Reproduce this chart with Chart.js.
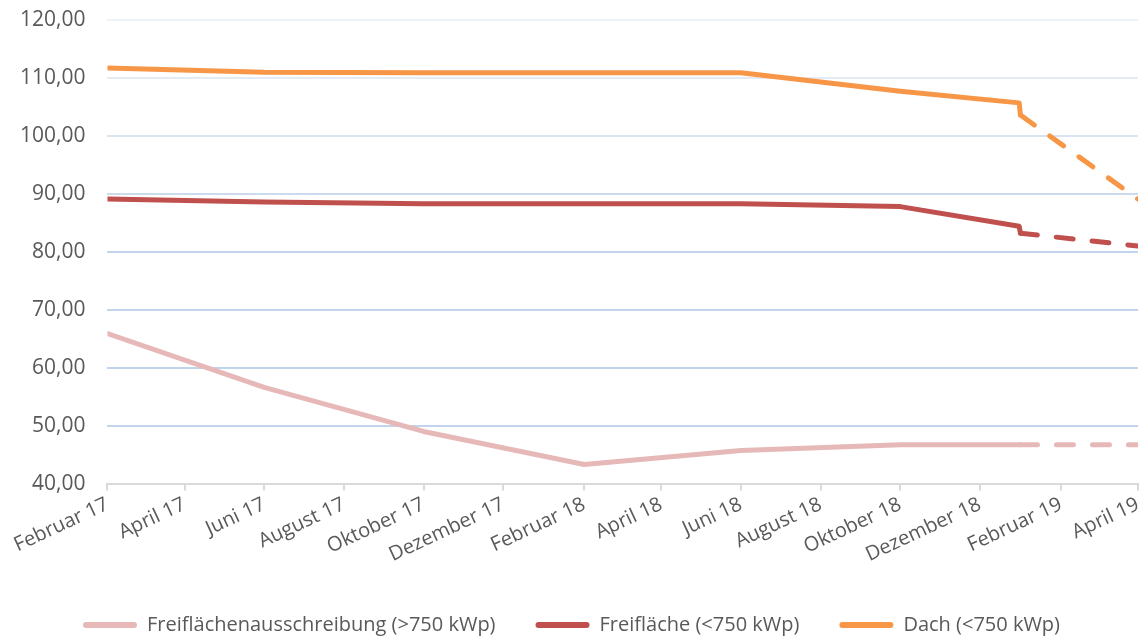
<!DOCTYPE html>
<html>
<head>
<meta charset="utf-8">
<script src="https://cdn.jsdelivr.net/npm/chart.js@4/dist/chart.umd.min.js"></script>
<style>
  html, body { margin: 0; padding: 0; background: #fff; }
  #wrap { width: 1145px; height: 637px; }
</style>
</head>
<body>
<div id="wrap"><canvas id="chart"></canvas></div>
<script>
// Stichtage der Werte (ab Januar 2019 gestrichelt = Prognose)
const dates = ['2017-02-01', '2017-06-01', '2017-10-01', '2018-02-01', '2018-06-01',
               '2018-10-01', '2018-12-31', '2019-01-01', '2019-04-01'];
const forecastFrom = '2019-01-01';

const seriesNames = ['Freiflächenausschreibung (>750 kWp)', 'Freifläche (<750 kWp)', 'Dach (<750 kWp)'];
const seriesColors = ['#E6B9B8', '#C0504D', '#F79646'];

const freiflaechenAusschreibung = [65.9, 56.6, 49.0, 43.3, 45.7, 46.7, 46.7, 46.7, 46.7];
const freiflaeche = [89.1, 88.6, 88.3, 88.3, 88.3, 87.8, 84.4, 83.2, 81.0];
const dach = [111.7, 111.0, 110.9, 110.9, 110.9, 107.7, 105.7, 103.6, 89.1];

// Achsenbeschriftung x (alle zwei Monate)
const tickDates = ['2017-02-01', '2017-04-01', '2017-06-01', '2017-08-01', '2017-10-01', '2017-12-01',
                   '2018-02-01', '2018-04-01', '2018-06-01', '2018-08-01', '2018-10-01', '2018-12-01',
                   '2019-02-01', '2019-04-01'];
const tickLabels = ['Februar 17', 'April 17', 'Juni 17', 'August 17', 'Oktober 17', 'Dezember 17',
                    'Februar 18', 'April 18', 'Juni 18', 'August 18', 'Oktober 18', 'Dezember 18',
                    'Februar 19', 'April 19'];
const yTicks = [40, 50, 60, 70, 80, 90, 100, 110, 120];

// Tage seit dem ersten Stichtag
function dayOf(s) {
    const p = s.split('-').map(Number);
    return (Date.UTC(p[0], p[1] - 1, p[2]) - Date.UTC(2017, 1, 1)) / 86400000;
}

const tickDays = tickDates.map(dayOf);
const forecastDay = dayOf(forecastFrom);

function points(values) {
    return values.map((v, i) => ({ x: dayOf(dates[i]), y: v }));
}

const allValues = [freiflaechenAusschreibung, freiflaeche, dach];
const datasets = allValues.map((vals, i) => ({
    label: seriesNames[i],
    data: points(vals),
    borderColor: seriesColors[i],
    backgroundColor: seriesColors[i],
    borderWidth: 5,
    borderCapStyle: 'round',
    borderJoinStyle: 'round',
    pointRadius: 0,
    tension: 0,
    segment: {
        borderDash: ctx => ctx.p0.parsed.x >= forecastDay ? [17, 19] : undefined
    }
}));

// Gitterlinien oben heller als unten
function gridColor(ctx) {
    const v = ctx.tick ? ctx.tick.value : 0;
    if (v <= 40) return '#d9d9d9';
    if (v >= 120) return '#eef3f9';
    if (v >= 110) return '#e4ebf5';
    if (v >= 100) return '#d9e3f1';
    if (v >= 90) return '#ccdaee';
    return '#c2d3ec';
}

const textColor = '#595959';
const fontFamily = '"Open Sans", "Noto Sans", sans-serif';

new Chart(document.getElementById('chart'), {
    type: 'line',
    data: { datasets: datasets },
    options: {
        responsive: true,
        maintainAspectRatio: false,
        animation: false,
        layout: { padding: { left: -2, right: 0, top: 0, bottom: -8 } },
        scales: {
            x: {
                type: 'linear',
                min: tickDays[0],
                max: tickDays[tickDays.length - 1],
                afterBuildTicks: scale => {
                    scale.ticks = tickDays.map(d => ({ value: d }));
                },
                afterFit: scale => {
                    scale.height += 6;
                    scale.paddingRight = 7;
                },
                ticks: {
                    autoSkip: false,
                    maxRotation: 25,
                    minRotation: 25,
                    padding: 2,
                    color: textColor,
                    font: { family: fontFamily, size: 20 },
                    callback: value => {
                        const i = tickDays.indexOf(value);
                        return i >= 0 ? tickLabels[i] : '';
                    }
                },
                grid: {
                    drawOnChartArea: false,
                    color: '#d9d9d9',
                    lineWidth: 2,
                    tickLength: 7
                },
                border: { color: '#d9d9d9', width: 2 }
            },
            y: {
                min: 40,
                max: 120,
                afterBuildTicks: scale => {
                    scale.ticks = yTicks.map(v => ({ value: v }));
                },
                afterFit: scale => { scale.paddingTop = 20; },
                ticks: {
                    padding: 22,
                    color: textColor,
                    font: { family: fontFamily, size: 21 },
                    callback: v => v.toFixed(2).replace('.', ',')
                },
                grid: {
                    drawTicks: false,
                    color: gridColor,
                    lineWidth: 2
                },
                border: { display: false }
            }
        },
        plugins: {
            tooltip: { enabled: false },
            legend: {
                position: 'bottom',
                labels: {
                    color: textColor,
                    font: { family: fontFamily, size: 20 },
                    boxWidth: 54,
                    boxHeight: 6,
                    padding: 40,
                    generateLabels: chart => chart.data.datasets.map((ds, i) => ({
                        text: ds.label,
                        fillStyle: ds.borderColor,
                        strokeStyle: ds.borderColor,
                        lineWidth: 0,
                        borderRadius: 3,
                        fontColor: textColor,
                        hidden: false,
                        datasetIndex: i
                    }))
                }
            }
        }
    }
});
</script>
</body>
</html>
